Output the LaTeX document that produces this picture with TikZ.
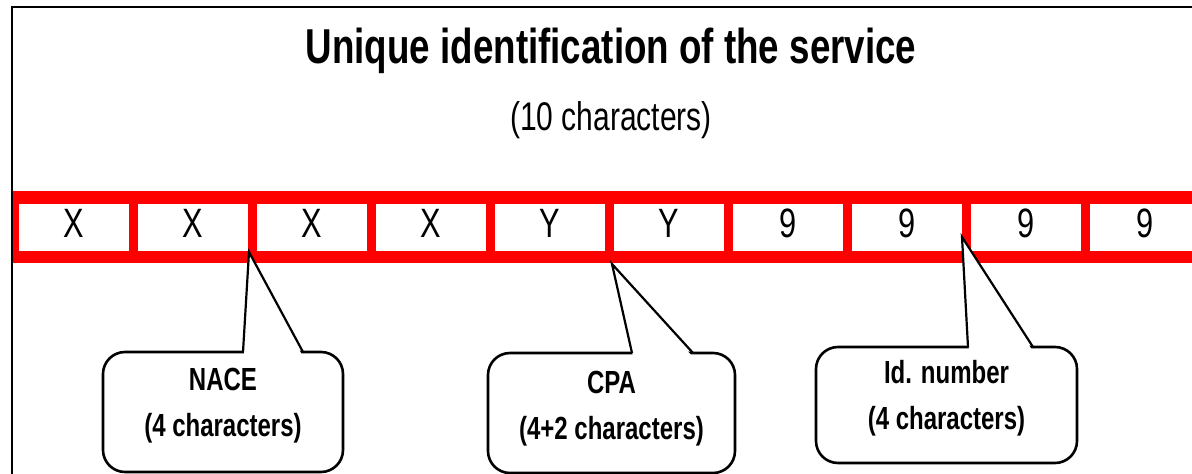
\documentclass[tikz,border=0pt]{standalone}
\usepackage{fontspec}
\usetikzlibrary{calc}
\setmainfont{Liberation Sans}[FakeStretch=0.75]
\begin{document}
\begin{tikzpicture}[x=1bp,y=-1bp,
  cell/.style={fill=white, draw=none, minimum width=110bp, minimum height=47bp, inner sep=0pt, anchor=north west},
  celltext/.style={font=\fontsize{41bp}{41bp}\selectfont, anchor=base},
  bubble/.style={draw=black, line width=2.6bp, fill=white, rounded corners=22bp, inner sep=0pt},
  btext/.style={font=\fontsize{32bp}{46bp}\selectfont\bfseries, align=center, anchor=base},
  pointer/.style={draw=black, line width=2.2bp, line join=miter}]
\useasboundingbox (0,0) rectangle (1192,474);
\clip (0,0) rectangle (1192,474);
\fill[white] (0,0) rectangle (1192,474);
% frame
\draw[line width=2.6bp] (12,480) -- (12,7) -- (1200,7);
% title
\node[font=\fontsize{49bp}{49bp}\selectfont\bfseries, anchor=base] (title) at (611,64) {Unique identification of the service};
\node[font=\fontsize{40bp}{40bp}\selectfont, anchor=base] (sub) at (611,131) {(10 characters)};
% red bar
\fill[red] (13,191) rectangle (1200,263);
\foreach \i/\t in {0/X,1/X,2/X,3/X,4/Y,5/Y,6/9,7/9,8/9,9/9}{
  \node[cell] (c\i) at (19+119*\i,204) {};
  \node[celltext] (t\i) at ($(c\i.south)+(0,-14)$) {\t};
}
% bubbles
\node[bubble, minimum width=240bp, minimum height=120bp] (nace) at (223,412) {};
\node[bubble, minimum width=247bp, minimum height=120bp] (cpa) at (611.5,413) {};
\node[bubble, minimum width=261bp, minimum height=116bp] (idn) at (946.5,405) {};
\coordinate (naceTip) at (249,252);
\coordinate (naceL) at (243,352);
\coordinate (naceR) at (303,352);
\coordinate (cpaTip) at (612,264);
\coordinate (cpaL) at (632,353);
\coordinate (cpaR) at (693,353);
\coordinate (idTip) at (962,237);
\coordinate (idL) at (968,347);
\coordinate (idR) at (1033,347);
\foreach \b in {nace,cpa,id}{
  \fill[white] ($(\b L)+(1,3)$) -- (\b Tip) -- ($(\b R)+(-1,3)$) -- cycle;
  \draw[pointer] (\b L) -- (\b Tip) -- (\b R);
}
\node[btext] (naceText) at (223,437) {NACE\\(4 characters)};
\node[btext] (cpaText) at (611.5,440) {CPA\\(4+2 characters)};
\node[btext] (idText) at (946.5,430) {Id. number\\(4 characters)};
\end{tikzpicture}
\end{document}
